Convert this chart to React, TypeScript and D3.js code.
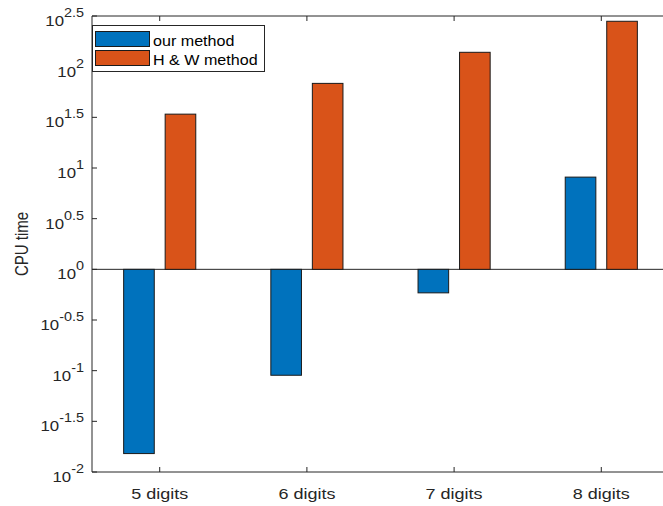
import React from "react";
import * as d3 from "d3";

const categories = ["5 digits", "6 digits", "7 digits", "8 digits"];
const seriesNames = ["our method", "H & W method"];
const ourMethod = [0.0152, 0.0901, 0.586, 8.13];
const hwMethod = [34.0, 68.4, 138.6, 280.5];
const yTickExps = ["2.5", "2", "1.5", "1", "0.5", "0", "-0.5", "-1", "-1.5", "-2"];

const colors = ["#0072BD", "#D95319"];
const textColor = "#262626";
const font = "'Liberation Sans', Arial, Helvetica, sans-serif";
const SX = 1.2;

export default function App() {
  const W = 663, H = 506;
  const left = 92, right = 669, top = 16, bottom = 472;
  const x = d3.scaleLinear().domain([0.54, 4.46]).range([left, right]);
  const y = d3.scaleLog().domain([Math.pow(10, -2), Math.pow(10, 2.5)]).range([bottom, top]);
  const barW = 0.208;
  const offset = 0.141;
  const series = [ourMethod, hwMethod];
  const base = y(1);

  return (
    <svg width={W} height={H} style={{ position: "fixed", left: 0, top: 0, background: "#fff" }}>
      <rect x={0} y={0} width={W} height={H} fill="#fff" />
      {/* baseline */}
      <line x1={left} x2={right} y1={base} y2={base} stroke={textColor} strokeWidth={1} />
      {/* bars */}
      {series.map((vals, si) =>
        vals.map((v, i) => {
          const cx = x(i + 1) + (si === 0 ? -1 : 1) * (x(1 + offset) - x(1));
          const w = x(1 + barW) - x(1);
          const yv = y(v);
          return (
            <rect
              key={`${si}-${i}`}
              x={cx - w / 2}
              y={Math.min(yv, base)}
              width={w}
              height={Math.abs(base - yv)}
              fill={colors[si]}
              stroke="#1a1a1a"
              strokeWidth={1}
            />
          );
        })
      )}
      {/* axes box */}
      <line x1={left} x2={left} y1={top} y2={bottom} stroke={textColor} strokeWidth={1} />
      <line x1={left} x2={right} y1={bottom} y2={bottom} stroke={textColor} strokeWidth={1} />
      <line x1={left} x2={right} y1={top} y2={top} stroke={textColor} strokeWidth={1} />
      <line x1={right} x2={right} y1={top} y2={bottom} stroke={textColor} strokeWidth={1} />
      {/* y ticks */}
      {yTickExps.map((e) => {
        const ty = y(Math.pow(10, parseFloat(e)));
        return (
          <g key={e}>
            <line x1={left} x2={left + 5} y1={ty} y2={ty} stroke={textColor} strokeWidth={1} />
            <line x1={right - 5} x2={right} y1={ty} y2={ty} stroke={textColor} strokeWidth={1} />
            <text
              transform={`translate(84, ${ty + 10}) scale(${SX},1)`}
              textAnchor="end"
              fontFamily={font}
              fontSize={14}
              fill={textColor}
            >
              10
              <tspan dy={-9} fontSize={12}>{e}</tspan>
            </text>
          </g>
        );
      })}
      {/* x ticks */}
      {categories.map((c, i) => {
        const tx = x(i + 1);
        return (
          <g key={c}>
            <line x1={tx} x2={tx} y1={bottom} y2={bottom - 5} stroke={textColor} strokeWidth={1} />
            <line x1={tx} x2={tx} y1={top} y2={top + 5} stroke={textColor} strokeWidth={1} />
            <text
              transform={`translate(${tx}, 499) scale(${SX},1)`}
              textAnchor="middle"
              fontFamily={font}
              fontSize={15}
              fill={textColor}
            >
              {c}
            </text>
          </g>
        );
      })}
      {/* y label */}
      <text
        transform={`translate(28, 244) scale(${SX},1) rotate(-90)`}
        textAnchor="middle"
        fontFamily={font}
        fontSize={15}
        fill={textColor}
      >
        CPU time
      </text>
      {/* legend */}
      <rect x={92.5} y={25.5} width={172} height={46} fill="#fff" stroke={textColor} strokeWidth={1} />
      {seriesNames.map((n, i) => (
        <g key={n}>
          <rect
            x={95.5}
            y={31.5 + i * 19}
            width={54}
            height={15}
            fill={colors[i]}
            stroke="#1a1a1a"
            strokeWidth={1}
          />
          <text
            transform={`translate(153, ${45.5 + i * 19.5}) scale(1.15,1)`}
            fontFamily={font}
            fontSize={14}
            fill="#000"
          >
            {n}
          </text>
        </g>
      ))}
    </svg>
  );
}
